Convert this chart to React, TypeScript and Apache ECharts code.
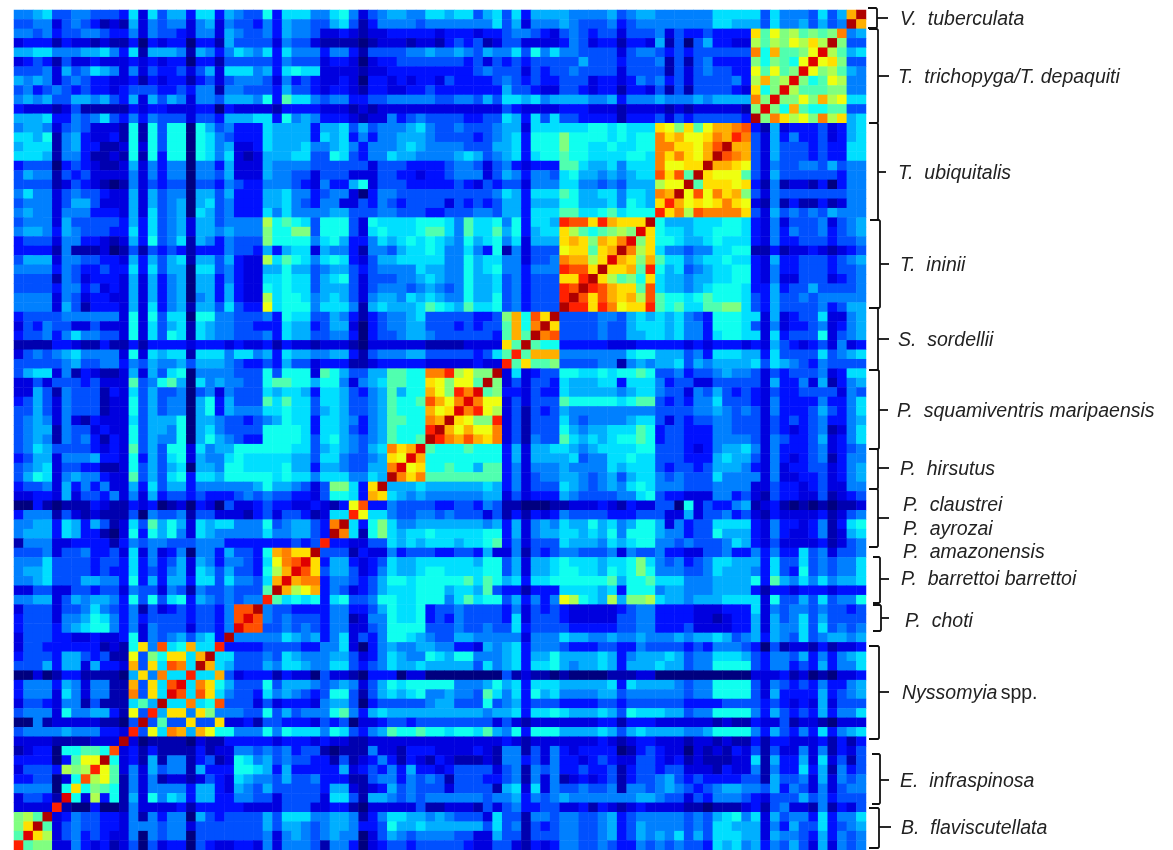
import React, { useEffect, useRef } from "react";
import * as echarts from "echarts";

// Similarity levels, 0 (navy) to k (dark red).
// Row r, from the top, holds columns 0 up to the diagonal; the matrix mirrors across that diagonal.
const rowsRaw: string[] = [
"5567445544 4372746637 7365448377 7557852456 6557767746 7473666655 5564566555 5557777747 5554746ej",
"4455245431 2162545525 6254435365 5446741355 5545555555 7462555654 4453455555 5557766647 5564645j",
"5545344554 3352544325 5265445365 5422321223 3333233323 3455432454 3442444524 3343333d9c ab9a9af",
"2333132212 1130323303 3164444254 4211110122 2122134341 2442222354 2331332614 0463322b9b acbdbj",
"6677555667 5371666516 5357657375 5535531444 4556556546 5574857554 4442455434 3444444f8e 99aci",
"2343142232 2232323303 3144444354 4423320233 4444444342 4343444446 4443444514 1453333a8a 98ci",
"4445264576 5252433424 6277756378 7722221223 3333333345 4442434454 4442444414 2454433c9c 9ai",
"6565245433 2231323313 4245554253 4322320332 3233243333 4543433444 2332354534 2444453bea bi",
"4534543433 2344433435 5155444364 4323321332 2334333333 3644322443 2331332414 1444432d8a i",
"5656446656 4362646525 5466658397 7545533445 5555445546 4776756666 5563555655 5656666fai",
"3222124111 1132332223 3032222133 3322212122 2222222222 2432222333 2221222212 1222221ai",
"6667335457 4353544424 4366677385 6533321225 3454444334 4763747443 3331333424 3444443j",
"5665245422 2181848808 6453337666 6366746455 5675445444 5662777777 8878777dca d9ceefg",
"7768156322 3181848808 7543337666 6376735355 6665444434 5673888a88 8878788fde ccdfeh",
"6777156331 1282848808 7562237666 7556753555 6765555444 6673888a88 7787788ffd dcegj",
"7776155311 2181838808 7572126667 7448743557 6655556764 5673788988 7777887fdf dcej",
"3444034321 1262535505 5362226555 5444444244 4333345542 4532333997 6675777fcc ddj",
"4655143422 2252535505 5462226554 4244422244 3323345552 4653554786 6565677gdg 9j",
"4444124321 0152434404 4354335554 3253368244 4333334324 3442555775 5454666bcc j",
"5755245443 2262645506 6463336675 5345520355 4444444444 5763777986 6775776fej",
"4555246642 2262645606 7453336675 4355224354 3444424343 4663666886 6675876dh",
"5655255533 3262745607 6453337575 5556644455 4443344455 4663777997 7897888h",
"4555264444 4363745626 645555b898 7488842877 7788875977 8583776hgg dhedddj",
"5665365444 3373745626 656555a88a a488842787 7789975977 9683677db9 89abai",
"3444255332 1263845716 535444a888 8578633576 7878765867 8572666ded aedfi",
"3333151112 0141434313 3354436367 7265531554 6778755753 8152444cdd 9dej",
"4666255443 3263646716 646322b798 7578732466 7777755867 7552445fee bdi",
"5555354334 3373746607 7453226686 6456643455 5576655867 8553555hgg dj",
"4444154233 3262635606 6353227787 7467842444 5567655866 7453444ddh j",
"4444355342 3262635606 6363228787 7466642455 5456545866 7453444hgj",
"5555254233 2262635605 636322b788 7567642566 5767655866 8453444hj",
"5555264133 3262735616 647433c788 8577751676 6679876977 8453444j",
"3444455555 5282847708 8554445387 7446531345 5674444433 4ae8gdj",
"2435442242 2282746717 6554433376 6346620345 5664443434 49e8fj",
"3445357554 4282748717 6554445376 6445530344 5665444444 39e9j",
"1111332113 1131333323 3323223132 2122210222 2221111222 2d9j",
"2454567555 5282767717 7757756376 6556631455 5664444434 79h",
"4444456445 5354655646 6654334364 4233311233 3332222232 2h",
"4677251321 1262647805 5554448488 8298644669 988ffhbcaa j",
"2242444342 2294589607 5655448998 8688525679 988dcacc9j",
"2264154441 3274644504 5254447677 6377643569 688ecahfi",
"3464254441 2284645506 8364449797 7477644569 889gecfi",
"4464254441 2284645506 8365557787 7467644569 888ecdi",
"4565252132 2274666806 6544345687 7377653569 988fej",
"4566154423 2284665806 7544448888 7377643569 888hj",
"4565154531 3284655806 8654338888 7478654569 889j",
"4576444432 3294648827 5668888887 746765467f dei",
"3466255563 3283647826 5578777776 647754456d ci",
"4567244331 1284646706 6588777786 636654466f i",
"4687256553 2294647837 7688888787 757775576j",
"3445263535 2263746635 5555568665 424aa73dj",
"2233262443 5252634434 3334545443 3248873e",
"0031011132 1132301203 2042234332 23213cg",
"3555142121 1140544514 4222134244 31277h",
"5566376364 1274968627 6775558456 643fj",
"5666376331 0283868527 6555557556 643j",
"1555223333 1354554445 5533333334 34h",
"4445244533 4272523505 5364438efd dj",
"5557444434 4373534626 5355437cfg i",
"5667444434 3373435627 6464438bei",
"5567444665 5383636637 7475547ei",
"2244224434 4254425415 4454449j",
"5566246566 5384847836 545455h",
"2444244575 4351423434 435ggj",
"3444255687 5353444434 435gi",
"3444356788 5352544424 435i",
"2444332232 2382545646 73j",
"2443333331 218d5g78e7 7h",
"3444366434 11c4a8dd7e j",
"4446366263 32e4d7gf7j",
"0020133111 106d5f77h",
"3555365255 11e4d7gi",
"3555275255 11f4d7i",
"2443255141 11796j",
"4555285566 31c4h",
"0051222221 104j",
"4555565553 32h",
"2222111122 2j",
"1233088998 g",
"3333039ccj",
"24443babh",
"3344028g",
"555508d",
"24431i",
"2222h",
"ab9j",
"adj",
"9i",
"h",
];

const speciesLabels = [
  "V.  tuberculata",
  "T.  trichopyga/T. depaquiti",
  "T.  ubiquitalis",
  "T.  ininii",
  "S.  sordellii",
  "P.  squamiventris maripaensis",
  "P.  hirsutus",
  "P.  claustrei",
  "P.  ayrozai",
  "P.  amazonensis",
  "P.  barrettoi barrettoi",
  "P.  choti",
  "Nyssomyia",
  "E.  infraspinosa",
  "B.  flaviscutellata",
];

const jetColors = [
  "#00007f", "#0000af", "#0000df", "#0010ff", "#0050ff", "#0080ff", "#00afff",
  "#00dfff", "#10ffef", "#50ffaf", "#80ff80", "#afff50", "#efff10", "#ffdf00",
  "#ffaf00", "#ff8000", "#ff5000", "#ff2000", "#df0000", "#af0000", "#800000",
];

const rows = rowsRaw.map((s) => s.replace(/ /g, ""));
const N = rows.length;
const level = (r: number, c: number): number => {
  const own = rows[r][c];
  const ch = own !== undefined ? own : (rows[88 - c] || "")[88 - r];
  return ch === undefined ? 4 : parseInt(ch, 36);
};

const cells: number[][] = [];
for (let r = 0; r < N; r++) for (let c = 0; c < N; c++) cells.push([c, r, level(r, c)]);
const axisNames = rows.map((_, i) => String(i));

// x of hook start, x of spine, top, bottom, tip y, tip x
const braces = [
  [868, 877, 8, 28, 18, 888],
  [869, 878, 29, 123, 76, 889],
  [870, 878, 123, 220, 172, 886],
  [872, 880, 220, 308, 264, 889],
  [869, 878, 308, 370, 339, 889],
  [869, 879, 370, 449, 410, 888],
  [869, 878, 449, 489, 468, 889],
  [869, 878, 489, 547, 518, 889],
  [873, 880, 557, 603, 579, 889],
  [873, 881, 605, 631, 618, 889],
  [869, 879, 646, 739, 692, 889],
  [872, 880, 754, 804, 780, 889],
  [869, 879, 808, 848, 827, 891],
];
const labelPos = [
  [900, 18], [898, 76], [898, 172], [900, 264], [898, 339], [897, 410], [900, 468],
  [903, 504], [903, 528], [903, 551], [901, 578], [905, 620], [902, 692], [900, 780], [901, 827],
];

export default function App() {
  const ref = useRef<HTMLDivElement>(null);
  useEffect(() => {
    document.body.style.margin = "0";
    const chart = echarts.init(ref.current!, undefined, { renderer: "svg" });
    const graphic: any[] = [];
    braces.forEach(([x0, x1, top, bottom, ty, tx]) => {
      graphic.push({
        type: "polyline",
        shape: { points: [[x0, top], [x1 - 1, top], [x1, top + 1], [x1, bottom - 1], [x1 - 1, bottom], [x0, bottom]] },
        style: { stroke: "#111", lineWidth: 1.8, fill: "none" },
      });
      graphic.push({
        type: "line",
        shape: { x1, y1: ty, x2: tx, y2: ty },
        style: { stroke: "#111", lineWidth: 1.8 },
      });
    });
    speciesLabels.forEach((label, i) => {
      const [x, y] = labelPos[i];
      graphic.push({
        type: "text",
        x,
        y,
        style: label === "Nyssomyia"
          ? {
              text: "{a|Nyssomyia} {b|spp.}",
              rich: {
                a: { fontStyle: "italic", fontFamily: "Liberation Sans", fontSize: 19.5, fill: "#222" },
                b: { fontFamily: "Liberation Sans", fontSize: 19.5, fill: "#222" },
              },
              verticalAlign: "middle",
            }
          : {
              text: label,
              fontStyle: "italic",
              fontFamily: "Liberation Sans",
              fontSize: 19.5,
              fill: "#222",
              verticalAlign: "middle",
            },
      });
    });
    chart.setOption({
      animation: false,
      backgroundColor: "#fff",
      grid: { left: 14, top: 10, width: 852, height: 844 },
      xAxis: { type: "category", data: axisNames, show: false },
      yAxis: { type: "category", data: axisNames, inverse: true, show: false },
      visualMap: { show: false, type: "continuous", min: 0, max: 20, dimension: 2, inRange: { color: jetColors } },
      series: [{
        type: "heatmap",
        data: cells,
        progressive: 0,
        clip: false,
        itemStyle: { borderWidth: 0 },
        emphasis: { disabled: true },
      }],
      graphic,
    });
    return () => chart.dispose();
  }, []);
  return <div ref={ref} style={{ width: 1173, height: 850, overflow: "hidden", background: "#fff", filter: "blur(0.6px)" }} />;
}
